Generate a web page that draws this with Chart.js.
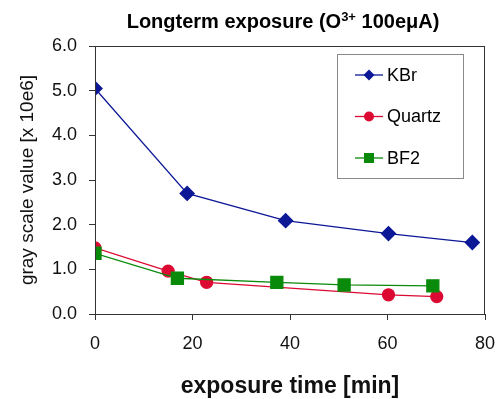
<!DOCTYPE html>
<html>
<head>
<meta charset="utf-8">
<script src="https://cdn.jsdelivr.net/npm/chart.js@4.4.0/dist/chart.umd.min.js"></script>
<style>
  html, body { margin: 0; padding: 0; background: #fff; }
  #wrap { width: 500px; height: 399px; }
</style>
</head>
<body>
<div id="wrap"><canvas id="graph" width="500" height="399"></canvas></div>
<script>
// values
const kbrTime = [0, 18.9, 39.1, 60.2, 77.4];
const kbrValue = [5.05, 2.70, 2.09, 1.80, 1.60];
const quartzTime = [0, 15.0, 22.9, 60.2, 70.1];
const quartzValue = [1.48, 0.96, 0.71, 0.43, 0.39];
const bf2Time = [0, 16.9, 37.3, 51.1, 69.3];
const bf2Value = [1.36, 0.80, 0.71, 0.65, 0.63];
const xTicks = [0, 20, 40, 60, 80];
const yTicks = [0, 1, 2, 3, 4, 5, 6];

const FONT = "Arial, 'Liberation Sans', sans-serif";
const navy = '#0c1896';
const red = '#dc0a32';
const green = '#0a8a0a';

function pts(xs, ys) {
    return xs.map((x, i) => ({ x: x, y: ys[i] }));
}

// title with superscript, legend box and frame
const extras = {
    id: 'extras',
    afterDraw(chart) {
        const c = chart.ctx;
        const a = chart.chartArea;
        c.save();
        // frame
        c.strokeStyle = '#333';
        c.lineWidth = 1;
        c.strokeRect(a.left + 0.5, a.top + 0.5, a.right - a.left - 1, a.bottom - a.top);

        // title
        const big = "bold 20px " + FONT;
        const small = "bold 13px " + FONT;
        const p1 = 'Longterm exposure (O', sup = '3+', p2 = ' 100eμA)';
        c.font = big;
        const w1 = c.measureText(p1).width, w3 = c.measureText(p2).width;
        c.font = small;
        const w2 = c.measureText(sup).width;
        let x = (a.left + a.right) / 2 - 7 - (w1 + w2 + w3) / 2;
        const base = 28;
        c.fillStyle = '#000';
        c.textBaseline = 'alphabetic';
        c.textAlign = 'left';
        c.font = big; c.fillText(p1, x, base); x += w1;
        c.font = small; c.fillText(sup, x, base - 7); x += w2;
        c.font = big; c.fillText(p2, x, base);

        // legend box
        const bx = a.right - 148, by = a.top + 8, bw = 126, bh = 124;
        c.strokeStyle = '#8a8a8a';
        c.strokeRect(bx + 0.5, by + 0.5, bw, bh);
        c.font = "18px " + FONT;
        c.textBaseline = 'middle';
        chart.data.datasets.forEach((ds, i) => {
            const y = by + 21 + i * 41.5;
            const lx = bx + 18, mx = bx + 32;
            c.strokeStyle = ds.borderColor;
            c.lineWidth = 1.3;
            c.beginPath(); c.moveTo(lx, y); c.lineTo(lx + 28, y); c.stroke();
            c.fillStyle = ds.pointBackgroundColor;
            c.beginPath();
            if (ds.pointStyle === 'rectRot') {
                const r = 5.5;
                c.moveTo(mx, y - r); c.lineTo(mx + r, y); c.lineTo(mx, y + r); c.lineTo(mx - r, y);
            } else if (ds.pointStyle === 'circle') {
                c.arc(mx, y, 5, 0, Math.PI * 2);
            } else {
                c.rect(mx - 5, y - 5, 10, 10);
            }
            c.closePath(); c.fill();
            c.fillStyle = '#000';
            c.fillText(ds.label, bx + 50, y + 1);
        });
        c.restore();
    }
};

new Chart(document.getElementById('graph').getContext('2d'), {
    type: 'line',
    data: {
        datasets: [{
            label: 'KBr',
            data: pts(kbrTime, kbrValue),
            borderColor: navy,
            backgroundColor: navy,
            pointBackgroundColor: navy,
            pointBorderColor: navy,
            pointStyle: 'rectRot',
            pointRadius: 7,
            borderWidth: 1.3,
            order: 2
        }, {
            label: 'Quartz',
            data: pts(quartzTime, quartzValue),
            borderColor: red,
            backgroundColor: red,
            pointBackgroundColor: red,
            pointBorderColor: red,
            pointStyle: 'circle',
            pointRadius: 6,
            borderWidth: 1.3,
            order: 1
        }, {
            label: 'BF2',
            data: pts(bf2Time, bf2Value),
            borderColor: green,
            backgroundColor: green,
            pointBackgroundColor: green,
            pointBorderColor: green,
            pointStyle: 'rect',
            pointRadius: 8.5,
            borderWidth: 1.3,
            order: 0
        }]
    },
    options: {
        responsive: false,
        animation: false,
        layout: { padding: { top: 46, right: 15, left: 0, bottom: 0 } },
        plugins: {
            legend: { display: false },
            title: { display: false },
            tooltip: { enabled: false }
        },
        scales: {
            x: {
                type: 'linear',
                min: 0,
                max: 80,
                afterFit(s) { s.height = 85; s.paddingLeft = 0; s.paddingRight = 0; },
                afterBuildTicks(s) { s.ticks = xTicks.map(v => ({ value: v })); },
                grid: { drawOnChartArea: false, drawTicks: true, tickLength: 6, color: '#333' },
                border: { display: true, color: '#333' },
                ticks: { color: '#111', font: { family: FONT, size: 18 }, padding: 13, maxRotation: 0 },
                title: {
                    display: true,
                    text: 'exposure time [min]',
                    color: '#111',
                    font: { family: FONT, size: 23, weight: 'bold', lineHeight: 1 },
                    padding: { top: 0, bottom: 1 }
                }
            },
            y: {
                min: 0,
                max: 6,
                afterFit(s) { s.width = 95; s.paddingTop = 0; s.paddingBottom = 0; },
                afterBuildTicks(s) { s.ticks = yTicks.map(v => ({ value: v })); },
                grid: { drawOnChartArea: false, drawTicks: true, tickLength: 6, color: '#333' },
                border: { display: true, color: '#333' },
                ticks: {
                    color: '#111',
                    font: { family: FONT, size: 18 },
                    padding: 12,
                    callback: v => v.toFixed(1)
                },
                title: {
                    display: true,
                    text: 'gray scale value [x 10e6]',
                    color: '#111',
                    font: { family: FONT, size: 19, lineHeight: 1.2 },
                    padding: { top: 16, bottom: 0 }
                }
            }
        }
    },
    plugins: [extras]
});
</script>
</body>
</html>
